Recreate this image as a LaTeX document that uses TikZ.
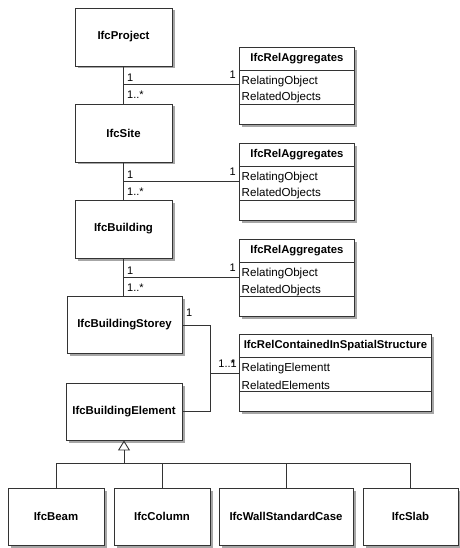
\documentclass[tikz,border=0pt]{standalone}
\usepackage{fontspec}
\setmainfont{Liberation Sans}
\usetikzlibrary{shadows,arrows.meta,calc}
\tikzset{
  lnk/.style={draw=black!80, line width=0.9pt},
  shd/.style={drop shadow={shadow xshift=2.5pt, shadow yshift=-2.5pt, fill=black!35, opacity=1}},
  cls/.style={draw=black!80, fill=white, line width=0.9pt, inner sep=0pt,
    minimum height=57pt, font=\fontsize{11.4}{13}\selectfont\bfseries, shd},
  relbox/.style={draw=black!80, fill=white, line width=0.9pt, inner sep=0pt,
    anchor=north west, shd},
  hdr/.style={inner sep=0pt, font=\fontsize{11.3}{13}\selectfont\bfseries},
  attr/.style={inner sep=0pt, anchor=west, font=\fontsize{11.6}{13}\selectfont},
  mult/.style={inner sep=0pt, font=\fontsize{11}{13}\selectfont},
}
\newcommand\RelBox[7]{%
  \node[relbox, minimum width=#4, minimum height=77pt] (#1) at (#2,#3) {};
  \node[hdr] (#1-h) at ($(#1.north)+(0,11.5)$) {#5};
  \draw[lnk] ($(#1.north west)+(0,23)$) -- ($(#1.north east)+(0,23)$);
  \draw[lnk] ($(#1.north west)+(0,57)$) -- ($(#1.north east)+(0,57)$);
  \node[attr] (#1-a) at ($(#1.north west)+(2.5,34.5)$) {#6};
  \node[attr] (#1-b) at ($(#1.north west)+(2.5,51)$) {#7};
}
\begin{document}
\begin{tikzpicture}[x=1pt,y=-1pt]
\fill[white] (0,0) rectangle (459,548);
\useasboundingbox (0,0) rectangle (459,548);

% class boxes
\node[cls, minimum width=97pt, minimum height=58pt] (proj) at (123.5,37) {IfcProject};
\node[cls, minimum width=97pt, minimum height=58pt] (site) at (123.5,133) {IfcSite};
\node[cls, minimum width=97pt, minimum height=58pt] (bldg) at (123.5,229) {IfcBuilding};
\node[cls, minimum width=115pt] (storey) at (124.5,325) {IfcBuildingStorey};
\node[cls, minimum width=116pt] (elem) at (124,411.5) {IfcBuildingElement};
\node[cls, minimum width=96pt] (beam) at (56,516.5) {IfcBeam};
\node[cls, minimum width=96pt] (column) at (162,516.5) {IfcColumn};
\node[cls, minimum width=134pt] (wall) at (286,516.5) {IfcWallStandardCase};
\node[cls, minimum width=95pt] (slab) at (410.5,516.5) {IfcSlab};

% relationship boxes
\RelBox{rel1}{239}{47}{115pt}{IfcRelAggregates}{RelatingObject}{RelatedObjects}
\RelBox{rel2}{239}{143}{115pt}{IfcRelAggregates}{RelatingObject}{RelatedObjects}
\RelBox{rel3}{239}{239}{115pt}{IfcRelAggregates}{RelatingObject}{RelatedObjects}
\RelBox{cont}{239}{334}{192pt}{IfcRelContainedInSpatialStructure}{RelatingElementt}{RelatedElements}

% aggregation connectors
\draw[lnk] (proj.south) -- (site.north);
\coordinate (j1) at (123.5,84);
\draw[lnk] (j1) -- (j1 -| rel1.west);
\node[mult, anchor=west] (m1a) at (127,78) {1};
\node[mult, anchor=west] (m1b) at (127,94.5) {1..*};
\node[mult, anchor=east] (m1c) at (236,75) {1};

\draw[lnk] (site.south) -- (bldg.north);
\coordinate (j2) at (123.5,181);
\draw[lnk] (j2) -- (j2 -| rel2.west);
\node[mult, anchor=west] (m2a) at (127,175) {1};
\node[mult, anchor=west] (m2b) at (127,191.5) {1..*};
\node[mult, anchor=east] (m2c) at (236,172) {1};

\draw[lnk] (bldg.south) -- (storey.north -| bldg.south);
\coordinate (j3) at (123.5,277);
\draw[lnk] (j3) -- (j3 -| rel3.west);
\node[mult, anchor=west] (m3a) at (127,271) {1};
\node[mult, anchor=west] (m3b) at (127,287.5) {1..*};
\node[mult, anchor=east] (m3c) at (236,268) {1};

% containment connector
\coordinate (k1) at (210,325);
\coordinate (k2) at (210,373);
\draw[lnk] (storey.east) -- (k1) |- (elem.east);
\draw[lnk] (k2) -- (k2 -| cont.west);
\node[mult, anchor=west] (m4a) at (186,313) {1};
\node[mult, anchor=east] (m4b) at (237,364) {1..\rlap{*}1};

% generalization
\coordinate (bus) at (124,463);
\draw[lnk, -{Triangle[open, width=12pt, length=10pt]}] (bus) -- (elem.south);
\draw[lnk] (beam.north) |- (bus);
\draw[lnk] (column.north) |- (bus);
\draw[lnk] (wall.north) |- (bus);
\draw[lnk] (slab.north) |- (bus);
\end{tikzpicture}
\end{document}
